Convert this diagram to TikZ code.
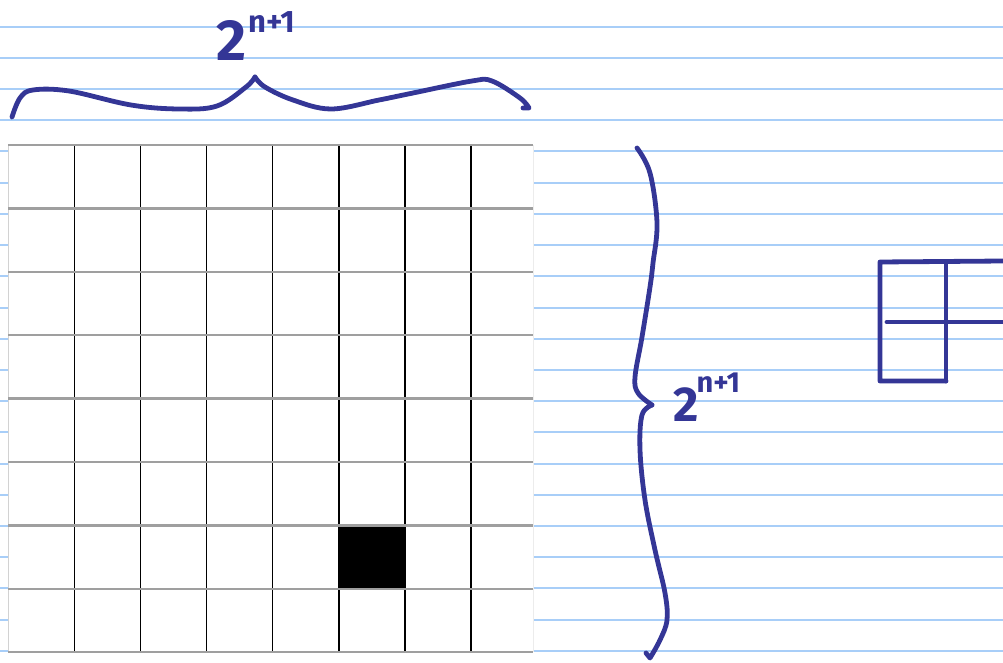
\documentclass[tikz,border=0pt]{standalone}
\usepackage{fontspec}
\usepackage{tikz}
\newfontfamily\handfont{Fira Sans}
\definecolor{penblue}{RGB}{52,54,150}
\definecolor{ruleblue}{RGB}{168,206,248}

\begin{document}
\begin{tikzpicture}[
  x=1pt, y=-1pt,
  rule/.style={ruleblue, line width=2pt},
  hline/.style={gray!75, line width=2.4pt},
  vline/.style={black, line width=1.4pt},
  pen/.style={penblue, line width=4.8pt, line cap=round, line join=round},
  penlabel/.style={penblue, inner sep=0pt, anchor=base west, font=\handfont\bfseries}
]
\useasboundingbox (0,0) rectangle (1003,663);

% Ruled paper
\foreach \k in {0,...,20}
  \draw[rule] (0,26.7+31.2*\k) -- (1003,26.7+31.2*\k);

% Board of 8x8 cells
\fill[white] (8.3,145) rectangle (533,652.2);
\fill[black] (339.2,525.4) rectangle (405.3,588.8);
\draw[gray!35, line width=1pt] (8.3,145) -- (8.3,652.2);
\draw[gray!15, line width=1pt] (533,145) -- (533,652.2);
\foreach \i in {1,...,7}
  \draw[vline] (8.3+66.1*\i,145) -- (8.3+66.1*\i,652.2);
\foreach \j in {0,...,8}
  \draw[hline] (8.3,145+63.4*\j) -- (533,145+63.4*\j);

% Top brace
\draw[pen] plot[smooth, tension=0.6] coordinates {(12,117) (20,98) (33,90) (69,91) (131,105) (179,109) (217,106) (246,87) (255,77)};
\draw[pen] plot[smooth, tension=0.6] coordinates {(255,77) (265,87) (293,100) (331,109) (379,100) (413,93) (472,81) (492,81) (520,98) (529,108)} -- (523,108);
\node[penlabel] (toplabel) at (216,61) {\fontsize{58}{58}\selectfont 2\hspace{2pt}\raisebox{28pt}{\fontsize{31}{31}\selectfont n+1}};

% Side brace
\draw[pen] plot[smooth, tension=0.6] coordinates {(637,148) (650,173) (657,223) (653,263) (650,287) (642,337) (635,377) (638,393) (652,405)};
\draw[pen] plot[smooth, tension=0.6] coordinates {(652,405) (642,415) (640,450) (645,500) (655,550) (665,593) (667,620) (660,640) (650,658)} -- (646,653);
\node[penlabel] (sidelabel) at (673,421) {\fontsize{49}{49}\selectfont 2\hspace{-2pt}\raisebox{29pt}{\fontsize{29}{29}\selectfont n+1}};

% Corner of the tile sketch
\draw[pen] (946,381) -- (880,381) -- (880,262) -- (1003,261);
\draw[pen] (946,262) -- (946,381);
\draw[pen] (887,322) -- (1003,322);

\end{tikzpicture}
\end{document}
